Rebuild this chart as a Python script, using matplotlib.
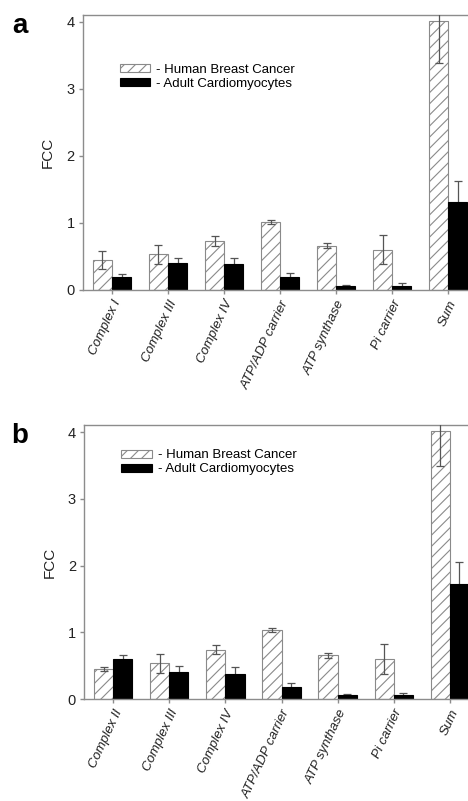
import matplotlib
matplotlib.use("Agg")
import matplotlib.pyplot as plt
import numpy as np

plt.rcParams['font.family'] = ['Liberation Sans', 'DejaVu Sans']
plt.rcParams['hatch.color'] = '#909090'
plt.rcParams['hatch.linewidth'] = 0.8

labels_a = ["Complex I", "Complex III", "Complex IV", "ATP/ADP carrier", "ATP synthase", "Pi carrier", "Sum"]
labels_b = ["Complex II", "Complex III", "Complex IV", "ATP/ADP carrier", "ATP synthase", "Pi carrier", "Sum"]

cancer_a = [0.45, 0.53, 0.73, 1.02, 0.66, 0.60, 4.02]
cancer_a_err = [0.13, 0.14, 0.07, 0.03, 0.04, 0.22, 0.63]
cardio_a = [0.19, 0.40, 0.38, 0.19, 0.065, 0.065, 1.32]
cardio_a_err = [0.045, 0.08, 0.10, 0.06, 0.01, 0.035, 0.31]

cancer_b = [0.46, 0.54, 0.74, 1.03, 0.66, 0.60, 4.02]
cancer_b_err = [0.03, 0.14, 0.065, 0.03, 0.04, 0.22, 0.53]
cardio_b = [0.60, 0.41, 0.38, 0.19, 0.065, 0.065, 1.73]
cardio_b_err = [0.065, 0.085, 0.10, 0.06, 0.01, 0.035, 0.33]

legend_labels = ["- Human Breast Cancer", "- Adult Cardiomyocytes"]
yticks = [0, 1, 2, 3, 4]

fig = plt.figure(figsize=(4.68, 8.01), dpi=100)
axa = fig.add_axes([0.177, 0.638, 0.843, 0.343])
axb = fig.add_axes([0.180, 0.127, 0.843, 0.342])

spine_c = '#8c8c8c'
w = 0.34

def panel(ax, labels, c, ce, d, de, leg_xy, letter, letter_y):
    x = np.arange(len(labels))
    ax.bar(x - w/2, c, width=w, facecolor='white', edgecolor='#8a8a8a',
           hatch='///', linewidth=0.8, label=legend_labels[0], zorder=2)
    ax.bar(x + w/2, d, width=w, facecolor='black', edgecolor='black',
           linewidth=0.8, label=legend_labels[1], zorder=2)
    ax.errorbar(x - w/2, c, yerr=ce, fmt='none', ecolor='#555555',
                elinewidth=0.9, capsize=3, capthick=0.9, zorder=3)
    ax.errorbar(x + w/2, d, yerr=de, fmt='none', ecolor='#555555',
                elinewidth=0.9, capsize=3, capthick=0.9, zorder=1)
    ax.set_xlim(-0.52, 6.52)
    ax.set_ylim(0, 4.1)
    ax.set_yticks(yticks)
    ax.set_yticklabels([str(t) for t in yticks], fontsize=10.5, color='#222222')
    ax.set_xticks(x)
    ax.set_xticklabels(labels, rotation=65, ha='right', rotation_mode='anchor',
                       fontsize=9.5, fontstyle='italic', color='#222222')
    for s in ax.spines.values():
        s.set_color(spine_c)
        s.set_linewidth(1.0)
    ax.tick_params(axis='both', direction='out', length=3, width=1.0,
                   color=spine_c, pad=3)
    ax.set_ylabel("FCC", fontsize=11, color='#222222', labelpad=8)
    ax.legend(loc='upper left', bbox_to_anchor=leg_xy, frameon=False,
              fontsize=9.5, handlelength=2.3, handleheight=0.55,
              handletextpad=0.45, labelspacing=0.15, borderpad=0,
              borderaxespad=0)
    fig.text(0.043, letter_y, letter, fontsize=20, fontweight='bold',
             ha='center', va='baseline')

panel(axa, labels_a, cancer_a, cancer_a_err, cardio_a, cardio_a_err,
      (0.094, 0.822), 'a', 1 - 33/801)
panel(axb, labels_b, cancer_b, cancer_b_err, cardio_b, cardio_b_err,
      (0.094, 0.912), 'b', 1 - 443/801)

fig.savefig("out.png", dpi=100)
